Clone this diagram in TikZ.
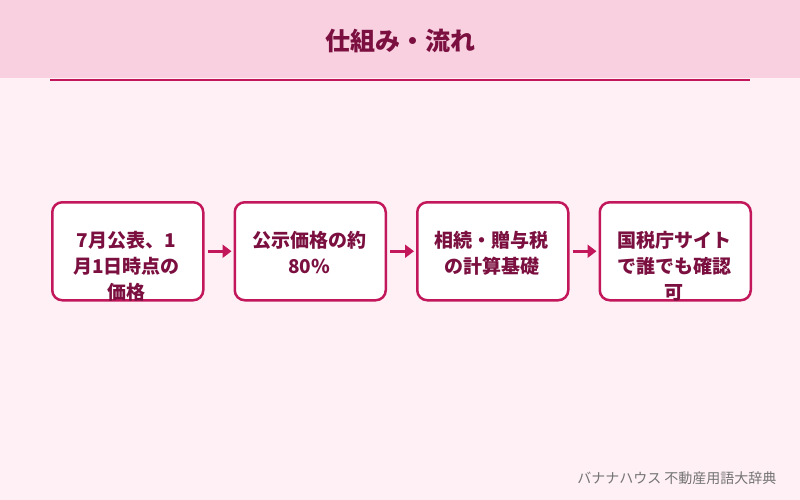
\documentclass[tikz,border=0pt]{standalone}
\usepackage{fontspec}
\setmainfont{Noto Sans CJK JP}
\usetikzlibrary{arrows.meta}
\definecolor{bg}{HTML}{FFF0F5}
\definecolor{hd}{HTML}{F8D0E0}
\definecolor{acc}{HTML}{C2185B}
\definecolor{tx}{HTML}{7B1040}
\begin{document}
\begin{tikzpicture}[x=1pt,y=-1pt,
  box/.style={draw=acc,line width=2.5pt,fill=white,rounded corners=10pt,minimum width=151pt,minimum height=98pt,anchor=north west},
  lbl/.style={anchor=north,align=center,text=tx,inner sep=0pt,font=\fontsize{19}{26}\selectfont\bfseries},
  arr/.style={draw=acc,line width=3pt,-{Triangle[length=9pt,width=13pt]}}]
\useasboundingbox (0,0) rectangle (800,500);
\fill[bg] (0,0) rectangle (800,500);
\fill[hd] (0,0) rectangle (800,78);
\draw[acc,line width=1.5pt] (50,80) -- (750,80);
\node[text=tx,font=\fontsize{25}{28}\selectfont\bfseries] (title) at (400,41) {仕組み・流れ};
\node[box] (b1) at (51,201) {};
\node[box] (b2) at (233.5,201) {};
\node[box] (b3) at (416,201) {};
\node[box] (b4) at (598.5,201) {};
\node[lbl] (t1) at (126.5,231) {7月公表、1\\月1日時点の\\価格};
\node[lbl] (t2) at (309,231) {公示価格の約\\80\%};
\node[lbl] (t3) at (491.5,231) {相続・贈与税\\の計算基礎};
\node[lbl] (t4) at (674,231) {国税庁サイト\\で誰でも確認\\可};
\draw[arr] ([xshift=3pt]b1.east) -- ([xshift=-2pt]b2.west);
\draw[arr] ([xshift=3pt]b2.east) -- ([xshift=-2pt]b3.west);
\draw[arr] ([xshift=3pt]b3.east) -- ([xshift=-2pt]b4.west);
\node[anchor=east,text=black!55,font=\fontsize{14}{16}\selectfont] (ft) at (780,478) {バナナハウス 不動産用語大辞典};
\end{tikzpicture}
\end{document}
